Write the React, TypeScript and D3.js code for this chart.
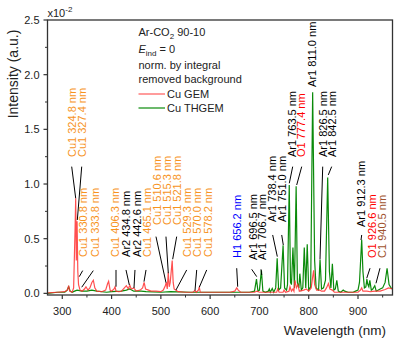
import React from 'react';
import * as d3 from 'd3';

const xTicks = [300, 400, 500, 600, 700, 800, 900];
const xMinorTicks = [350, 450, 550, 650, 750, 850, 950];
const yTicks = [0, 0.5, 1.0, 1.5, 2.0, 2.5];
const yMinorTicks = [0.25, 0.75, 1.25, 1.75, 2.25];

// Cu GEM (red), intensity in units of 1e-2
const gemWl = [270, 290, 305, 310, 313, 315, 320, 323, 326, 327.2, 328.5, 330, 331.5, 333, 336, 340, 345, 348, 352, 356, 360, 363, 366, 370, 380, 388, 392, 394, 397, 400, 405, 407, 409, 415, 420, 426, 430, 434, 437, 440, 445, 450, 458, 463, 466, 469, 475, 480, 490, 500, 505, 509, 511, 513, 515, 517, 519, 521, 523, 525, 527, 530, 535, 550, 565, 569, 572, 576, 578, 580, 600, 640, 650, 654, 657, 662, 690, 695, 700, 735, 737, 740, 748, 750, 753, 760, 762, 765, 768, 770, 772, 775, 778, 781, 790, 795, 800, 805, 808, 810, 812, 816, 822, 826, 832, 836, 840, 843, 848, 852, 860, 900, 905, 907.5, 910, 918, 925, 935, 945, 955, 962, 970];
const gemVal = [0.005, 0.01, 0.015, 0.03, 0.07, 0.02, 0.01, 0.05, 0.6, 0.87, 0.3, 0.66, 0.2, 0.08, 0.03, 0.02, 0.04, 0.06, 0.03, 0.05, 0.1, 0.12, 0.05, 0.02, 0.015, 0.03, 0.09, 0.11, 0.03, 0.02, 0.04, 0.06, 0.02, 0.015, 0.02, 0.05, 0.07, 0.04, 0.075, 0.04, 0.05, 0.02, 0.03, 0.05, 0.1, 0.04, 0.03, 0.02, 0.02, 0.015, 0.03, 0.07, 0.1, 0.04, 0.19, 0.06, 0.1, 0.2, 0.3, 0.1, 0.04, 0.03, 0.015, 0.01, 0.01, 0.025, 0.01, 0.03, 0.055, 0.01, 0.01, 0.01, 0.02, 0.05, 0.03, 0.01, 0.01, 0.02, 0.01, 0.01, 0.04, 0.01, 0.01, 0.03, 0.01, 0.02, 0.06, 0.02, 0.04, 0.02, 0.12, 0.05, 0.08, 0.02, 0.03, 0.04, 0.02, 0.05, 0.15, 0.21, 0.08, 0.03, 0.03, 0.02, 0.02, 0.05, 0.09, 0.04, 0.03, 0.01, 0.01, 0.01, 0.03, 0.05, 0.02, 0.02, 0.015, 0.02, 0.02, 0.035, 0.05, 0.04];

// Cu THGEM (green)
const thgemWl = [270, 290, 305, 310, 313, 316, 320, 325, 330, 340, 350, 360, 370, 390, 400, 420, 430, 437, 445, 460, 470, 500, 520, 560, 600, 650, 680, 690, 694, 697, 700, 704, 707, 712, 718, 720, 722, 726, 729, 733, 736, 739, 743, 748, 751, 755, 757, 760.5, 763, 765, 768, 771, 774.5, 777, 780, 782, 785, 788, 791, 794, 797, 800, 804, 808, 812, 815, 820, 823, 826, 830, 834, 838.5, 842, 845, 848, 851, 854, 857, 860, 865, 870, 873, 880, 890, 895, 900, 903, 907.5, 910, 913, 916, 918, 920, 922, 924, 927, 930, 934, 937, 945, 950, 955, 959, 963, 967, 970];
const thgemVal = [0.0, 0.01, 0.01, 0.03, 0.06, 0.02, 0.01, 0.02, 0.03, 0.02, 0.02, 0.03, 0.02, 0.01, 0.015, 0.02, 0.03, 0.04, 0.02, 0.02, 0.015, 0.01, 0.015, 0.01, 0.01, 0.01, 0.01, 0.02, 0.13, 0.02, 0.03, 0.21, 0.02, 0.01, 0.02, 0.04, 0.01, 0.045, 0.01, 0.05, 0.32, 0.03, 0.05, 0.44, 0.05, 0.03, 0.08, 0.99, 0.1, 0.08, 0.42, 0.05, 0.98, 0.1, 0.05, 0.18, 0.03, 0.05, 0.42, 0.05, 0.45, 0.03, 0.06, 1.84, 0.3, 0.05, 0.03, 0.31, 0.04, 0.05, 0.12, 1.06, 0.2, 0.05, 0.27, 0.03, 0.04, 0.12, 0.02, 0.01, 0.03, 0.02, 0.01, 0.01, 0.02, 0.03, 0.1, 0.49, 0.2, 0.05, 0.06, 0.13, 0.08, 0.06, 0.12, 0.03, 0.04, 0.07, 0.02, 0.04, 0.05, 0.1, 0.23, 0.08, 0.05, 0.04];

const ORANGE = '#F7931E';
const BLACK = '#000000';
const RED = '#FF0000';
const BLUE = '#0000FF';
const BROWN = '#A0522D';

// line labels: text, colour, label position (wavelength, intensity at text start), leader (w1, v1, w2, v2)
const labelText = ['Cu1 324.8 nm', 'Cu1 327.4 nm', 'Cu1 330.8 nm', 'Cu1 333.8 nm', 'Cu1 406.3 nm', 'Ar2 434.8 nm', 'Ar2 442.6 nm', 'Cu1 465.1 nm', 'Cu1 510.6 nm', 'Cu1 515.3 nm', 'Cu1 521.8 nm', 'Cu1 529.3 nm', 'Cu1 570.0 nm', 'Cu1 578.2 nm', 'H1 656.2 nm', 'Ar1 696.5 nm', 'Ar1 706.7 nm', 'Ar1 738.4 nm', 'Ar1 751.0 nm', 'Ar1 763.5 nm', 'O1 777.4 nm', 'Ar1 811.0 nm', 'Ar1 826.5 nm', 'Ar1 842.5 nm', 'Ar1 912.3 nm', 'O1 926.6 nm', 'C1 940.5 nm'];
const labelColor = [ORANGE, ORANGE, ORANGE, ORANGE, ORANGE, BLACK, BLACK, ORANGE, ORANGE, ORANGE, ORANGE, ORANGE, ORANGE, ORANGE, BLUE, BLACK, BLACK, BLACK, BLACK, BLACK, RED, BLACK, BLACK, BLACK, BLACK, RED, BROWN];
const labelW = [319.7, 340.0, 342.6, 366.4, 407.0, 429.3, 451.0, 471.3, 491.6, 511.9, 532.1, 552.4, 572.7, 596.3, 653.9, 686.3, 704.6, 724.9, 745.2, 765.5, 784.4, 807.3, 828.4, 846.6, 905.5, 927.8, 948.1];
const labelV = [1.247, 1.247, 0.333, 0.333, 0.333, 0.333, 0.333, 0.333, 0.626, 0.626, 0.626, 0.333, 0.333, 0.333, 0.324, 0.305, 0.305, 0.653, 0.653, 1.247, 1.247, 1.888, 1.247, 1.247, 0.607, 0.324, 0.324];
const leaders: (number[] | null)[] = [
  [319.1, 1.159, 327.2, 0.87],
  [339.4, 1.159, 330.5, 0.671],
  [334.5, 0.153, 341.4, 0.208],
  [339.4, 0.056, 362.9, 0.208],
  [409.0, 0.214, 409.0, 0.061],
  [429.3, 0.214, 436.0, 0.077],
  [447.5, 0.214, 445.5, 0.049],
  [469.9, 0.214, 465.8, 0.107],
  [490.1, 0.519, 510.4, 0.098],
  [510.4, 0.519, 515.1, 0.184],
  [532.1, 0.519, 524.0, 0.312],
  [552.4, 0.214, 530.7, 0.031],
  [572.7, 0.214, 569.3, 0.025],
  [593.0, 0.214, 578.0, 0.056],
  [653.9, 0.230, 655.9, 0.061],
  [684.3, 0.220, 694.5, 0.153],
  [703.2, 0.220, 704.6, 0.168],
  [726.9, 0.534, 736.3, 0.336],
  [745.2, 0.534, 748.4, 0.442],
  [767.5, 1.159, 760.6, 1.007],
  [785.8, 1.159, 775.6, 0.991],
  null,
  [828.4, 1.159, 822.9, 0.312],
  [846.6, 1.159, 839.7, 1.083],
  [907.5, 0.534, 906.1, 0.488],
  [924.4, 0.230, 917.7, 0.138],
  [944.6, 0.230, 936.5, 0.092],
];

const FONT = 'Liberation Sans, Arial, sans-serif';

export default function App() {
  const left = 47.5, right = 392.5, top = 20, bottom = 295;
  const x = d3.scaleLinear().domain([270, 970]).range([left, right]);
  const y = d3.scaleLinear().domain([-0.015, 2.5]).range([bottom, top]);
  const line = d3.line<[number, number]>().x(d => x(d[0])).y(d => y(d[1]));
  const gem = gemWl.map((w, i) => [w, gemVal[i]] as [number, number]);
  const thgem = thgemWl.map((w, i) => [w, thgemVal[i]] as [number, number]);
  const fs = 11;

  return (
    <svg width={399} height={343} style={{ position: 'absolute', left: 0, top: 0, fontFamily: FONT }}>
      <rect x={0} y={0} width={399} height={343} fill="#fff" />
      <defs>
        <clipPath id="plotclip">
          <rect x={left} y={top} width={right - left} height={bottom - top} />
        </clipPath>
      </defs>
      <g clipPath="url(#plotclip)">
        <path d={line(thgem) || ''} fill="none" stroke="#0A8A0A" strokeWidth={1.2} />
        <path d={line(gem) || ''} fill="none" stroke="#FF3030" strokeOpacity={0.85} strokeWidth={1.2} />
      </g>
      {/* leaders */}
      {leaders.map((l, i) => l ? (
        <line key={'l' + i} x1={x(l[0])} y1={y(l[1])} x2={x(l[2])} y2={y(l[3])} stroke="#000" strokeWidth={1} />
      ) : null)}
      {labelText.map((t, i) => (
        <text key={'t' + i} transform={`translate(${x(labelW[i]) + 4},${y(labelV[i])}) rotate(-90)`} fontSize={fs} fill={labelColor[i]}>{t}</text>
      ))}
      {/* frame */}
      <rect x={left} y={top} width={right - left} height={bottom - top} fill="none" stroke="#333" strokeWidth={1.3} />
      {/* x ticks */}
      {xTicks.map(t => (
        <g key={'xt' + t}>
          <line x1={x(t)} x2={x(t)} y1={bottom} y2={bottom + 4} stroke="#333" strokeWidth={1.2} />
          <text x={x(t)} y={bottom + 20} fontSize={fs} textAnchor="middle" fill="#222">{t}</text>
        </g>
      ))}
      {xMinorTicks.map(t => (
        <line key={'xm' + t} x1={x(t)} x2={x(t)} y1={bottom} y2={bottom + 2.5} stroke="#333" strokeWidth={1} />
      ))}
      {yTicks.map(t => (
        <g key={'yt' + t}>
          <line x1={left - 4} x2={left} y1={y(t)} y2={y(t)} stroke="#333" strokeWidth={1.2} />
          <text x={left - 8} y={y(t) + 4} fontSize={fs} textAnchor="end" fill="#222">{t.toFixed(1)}</text>
        </g>
      ))}
      {yMinorTicks.map(t => (
        <line key={'ym' + t} x1={left - 2.5} x2={left} y1={y(t)} y2={y(t)} stroke="#333" strokeWidth={1} />
      ))}
      <text x={left} y={17} fontSize={11} fill="#222">x10<tspan dy={-5} fontSize={8}>-2</tspan></text>
      <text x={386} y={335} fontSize={13.5} textAnchor="end" fill="#222">Wavelength (nm)</text>
      <text transform={`translate(18,74) rotate(-90)`} fontSize={14} textAnchor="middle" fill="#222">Intensity (a.u.)</text>
      {/* legend */}
      <g fontSize={11} fill="#222">
        <text x={138.5} y={36}>Ar-CO<tspan dy={3} fontSize={8}>2</tspan><tspan dy={-3}> 90-10</tspan></text>
        <text x={138.5} y={53}><tspan fontStyle="italic">E</tspan><tspan dy={3} fontSize={8}>ind</tspan><tspan dy={-3}> = 0</tspan></text>
        <text x={138.5} y={69}>norm. by integral</text>
        <text x={138.5} y={83}>removed background</text>
        <line x1={138.5} x2={165} y1={94} y2={94} stroke="#FF5A5A" strokeWidth={1.2} />
        <text x={167} y={98}>Cu GEM</text>
        <line x1={138.5} x2={165} y1={108} y2={108} stroke="#0A8A0A" strokeWidth={1.2} />
        <text x={167} y={112}>Cu THGEM</text>
      </g>
    </svg>
  );
}
